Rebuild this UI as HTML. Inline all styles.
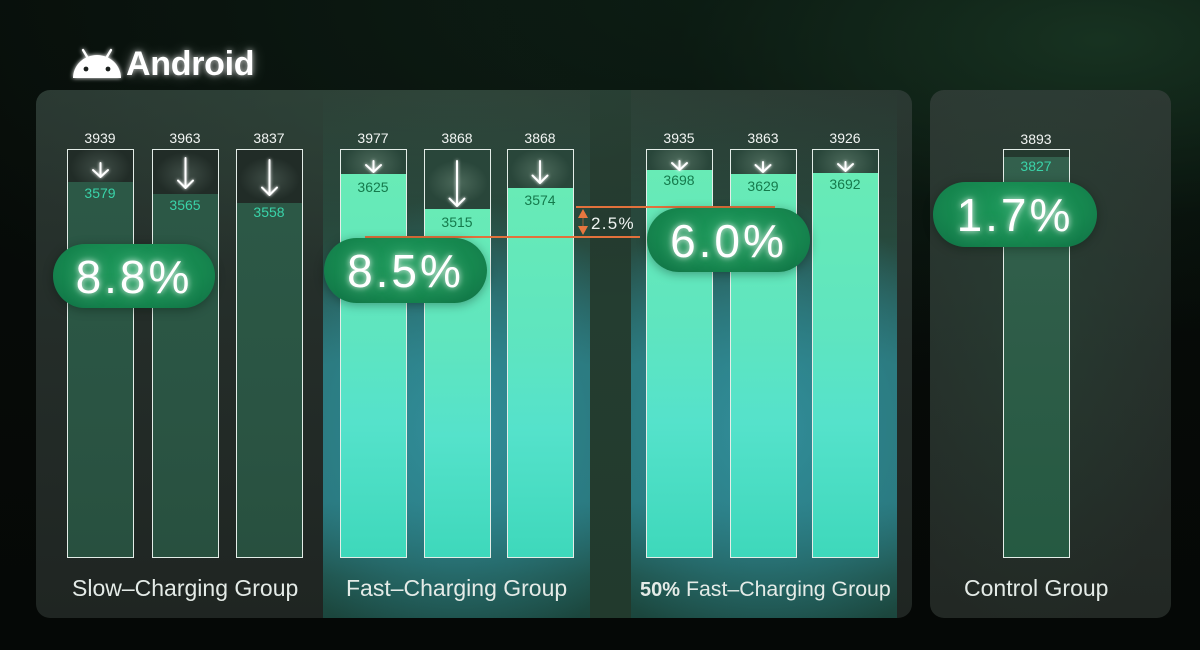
<!DOCTYPE html>
<html><head><meta charset="utf-8">
<style>
*{margin:0;padding:0;box-sizing:border-box}
html,body{width:1200px;height:650px;overflow:hidden;background:#050907}
body{position:relative;font-family:"Liberation Sans",Arial,sans-serif;
background:
radial-gradient(ellipse 700px 300px at 1100px 40px, rgba(24,52,34,0.95), rgba(10,24,16,0.4) 60%, rgba(0,0,0,0) 100%),
radial-gradient(ellipse 900px 400px at 700px 0px, rgba(14,32,22,0.9), rgba(0,0,0,0) 100%),
linear-gradient(180deg,#070c09 0%,#050806 100%);}
.abs{position:absolute}
.panel{position:absolute;border-radius:14px;overflow:hidden}
#main{left:36px;top:90px;width:876px;height:528px;
background:
radial-gradient(ellipse 500px 200px at 420px 0px, rgba(50,80,64,0.55), rgba(0,0,0,0) 100%),
linear-gradient(180deg,#2a3731 0%,#242d29 45%,#1f2522 100%);}
#ctrl{left:930px;top:90px;width:241px;height:528px;
background:
radial-gradient(ellipse 160px 320px at 106px 230px, rgba(40,80,60,0.35), rgba(0,0,0,0) 100%),
linear-gradient(180deg,#2d3933 0%,#262e2a 50%,#222824 100%);}
.region{position:absolute;top:0;height:528px}
.greg{background:
 radial-gradient(ellipse 210px 230px at 50% 64%, rgba(50,145,158,0.9) 0%, rgba(46,136,146,0.55) 55%, rgba(0,0,0,0) 100%),
 linear-gradient(180deg, rgba(38,74,58,0.0) 0%, rgba(40,92,74,0.55) 28%, rgba(44,128,132,0.85) 52%, rgba(42,124,130,0.9) 78%, #1f5048 92%, #1b463d 100%);}
.bar{position:absolute;top:149px;height:409px;width:67px;border:1.5px solid #e4ede8;overflow:hidden}
.band{position:absolute;left:0;right:0;top:0}
.fill{position:absolute;left:0;right:0;bottom:0}
.slow .band{background:radial-gradient(ellipse 30px 22px at 50% 55%, rgba(120,140,130,0.35), rgba(0,0,0,0) 100%),#212c27}
.slow .fill{background:linear-gradient(180deg,#2c5846 0%,#2a5443 60%,#28503f 100%)}
.fast .band{background:radial-gradient(ellipse 30px 22px at 50% 55%, rgba(140,170,150,0.35), rgba(0,0,0,0) 100%),#29463a}
.fast .fill{background:linear-gradient(180deg,#68ebb6 0%,#5fe5bf 40%,#55e2cb 65%,#3ed8bb 100%)}
.ctrlbar .band{background:#24392f}
.ctrlbar .fill{background:linear-gradient(180deg,#33604d 0%,#2d5c47 50%,#255a42 100%)}
.top{position:absolute;width:80px;text-align:center;font-size:14px;color:#f2f5f3;line-height:16px}
.inn{position:absolute;width:80px;text-align:center;font-size:14px;line-height:16px}
.pill{position:absolute;border-radius:40px;background:radial-gradient(ellipse at 50% 40%,#1d9a5c 0%,#16874f 60%,#107045 100%);
color:#fff;text-align:center;font-size:46px;letter-spacing:3px;
text-shadow:0 0 6px rgba(255,255,255,0.8),0 0 14px rgba(220,255,235,0.5);box-shadow:0 2px 10px rgba(0,20,10,0.35)}
.glab{position:absolute;font-size:23px;color:#e4ebe7;white-space:nowrap;line-height:26px}
</style></head><body>

<!-- Android logo -->
<svg class="abs" style="left:68px;top:44px" width="60" height="40" viewBox="0 0 60 40">
<defs><filter id="gl" x="-30%" y="-30%" width="160%" height="160%"><feGaussianBlur stdDeviation="2.2" result="b"/><feMerge><feMergeNode in="b"/><feMergeNode in="SourceGraphic"/></feMerge></filter></defs>
<g filter="url(#gl)" fill="#fff">
<path d="M5 34 A24 23 0 0 1 53 34 Z"/>
<line x1="15" y1="6" x2="21" y2="16" stroke="#fff" stroke-width="2.4" stroke-linecap="round"/>
<line x1="43" y1="6" x2="37" y2="16" stroke="#fff" stroke-width="2.4" stroke-linecap="round"/>
</g>
<circle cx="18" cy="25" r="2.4" fill="#1a1f1c"/>
<circle cx="40" cy="25" r="2.4" fill="#1a1f1c"/>
</svg>
<div class="abs" style="left:126px;top:44px;font-size:34px;font-weight:bold;color:#fff;line-height:40px;letter-spacing:-0.3px;text-shadow:0 0 6px rgba(255,255,255,0.7),0 0 14px rgba(255,255,255,0.35)">Android</div>

<div class="panel" id="main">
  <div class="region greg" style="left:287px;width:267px"></div>
  <div class="region" style="left:554px;width:41px;background:linear-gradient(180deg,rgba(30,60,44,0.3) 0%,#243d30 40%,#223a2d 100%)"></div>
  <div class="region greg" style="left:595px;width:266px"></div>
</div>
<div class="panel" id="ctrl"></div>

<!-- Slow bars -->
<div class="bar slow" style="left:67px"><div class="band" style="height:32px"></div><div class="fill" style="top:32px"></div></div>
<div class="bar slow" style="left:152px"><div class="band" style="height:44px"></div><div class="fill" style="top:44px"></div></div>
<div class="bar slow" style="left:236px"><div class="band" style="height:53px"></div><div class="fill" style="top:53px"></div></div>
<!-- Fast bars -->
<div class="bar fast" style="left:340px"><div class="band" style="height:24px"></div><div class="fill" style="top:24px"></div></div>
<div class="bar fast" style="left:424px"><div class="band" style="height:59px"></div><div class="fill" style="top:59px"></div></div>
<div class="bar fast" style="left:507px"><div class="band" style="height:38px"></div><div class="fill" style="top:38px"></div></div>
<!-- 50% bars -->
<div class="bar fast" style="left:646px"><div class="band" style="height:20px"></div><div class="fill" style="top:20px"></div></div>
<div class="bar fast" style="left:730px"><div class="band" style="height:24px"></div><div class="fill" style="top:24px"></div></div>
<div class="bar fast" style="left:812px"><div class="band" style="height:23px"></div><div class="fill" style="top:23px"></div></div>
<!-- Control bar -->
<div class="bar ctrlbar" style="left:1003px"><div class="band" style="height:7px"></div><div class="fill" style="top:7px"></div></div>

<!-- top labels -->
<div class="top" style="left:60px;top:130px">3939</div>
<div class="top" style="left:145px;top:130px">3963</div>
<div class="top" style="left:229px;top:130px">3837</div>
<div class="top" style="left:333px;top:130px">3977</div>
<div class="top" style="left:417px;top:130px">3868</div>
<div class="top" style="left:500px;top:130px">3868</div>
<div class="top" style="left:639px;top:130px">3935</div>
<div class="top" style="left:723px;top:130px">3863</div>
<div class="top" style="left:805px;top:130px">3926</div>
<div class="top" style="left:996px;top:131px">3893</div>

<!-- inner labels -->
<div class="inn" style="left:60px;top:185px;color:#3ad3a9">3579</div>
<div class="inn" style="left:145px;top:197px;color:#3ad3a9">3565</div>
<div class="inn" style="left:229px;top:204px;color:#3ad3a9">3558</div>
<div class="inn" style="left:333px;top:179px;color:#157a4c">3625</div>
<div class="inn" style="left:417px;top:214px;color:#157a4c">3515</div>
<div class="inn" style="left:500px;top:192px;color:#157a4c">3574</div>
<div class="inn" style="left:639px;top:172px;color:#157a4c">3698</div>
<div class="inn" style="left:723px;top:178px;color:#157a4c">3629</div>
<div class="inn" style="left:805px;top:176px;color:#157a4c">3692</div>
<div class="inn" style="left:996px;top:158px;color:#3ad3a9">3827</div>

<!-- arrows and orange markers -->
<svg class="abs" style="left:0;top:0" width="1200" height="650" viewBox="0 0 1200 650">
<defs><filter id="ag" x="-100%" y="-50%" width="300%" height="200%"><feGaussianBlur stdDeviation="1.6" result="b"/><feMerge><feMergeNode in="b"/><feMergeNode in="SourceGraphic"/></feMerge></filter></defs>
<g stroke="#ffffff" stroke-width="2" fill="none" stroke-linecap="round" stroke-linejoin="round" filter="url(#ag)">
<path d="M100.5 163 V177 M93 170 L100.5 177 L108 170"/>
<path d="M185.5 158 V188 M178 180.5 L185.5 188 L193 180.5"/>
<path d="M269.5 160 V195 M262 187.5 L269.5 195 L277 187.5"/>
<path d="M373.5 161 V172 M366 165 L373.5 172 L381 165"/>
<path d="M457 161 V206 M449.5 198.5 L457 206 L464.5 198.5"/>
<path d="M540 161 V183 M532.5 175.5 L540 183 L547.5 175.5"/>
<path d="M679.5 161 V170 M672 163 L679.5 170 L687 163"/>
<path d="M763 162 V172 M755.5 165 L763 172 L770.5 165"/>
<path d="M845.5 162 V171 M838 164 L845.5 171 L853 164"/>
</g>
<g stroke="#e2713c" stroke-width="2">
<line x1="576" y1="207" x2="775" y2="207"/>
<line x1="365" y1="237" x2="640" y2="237"/>
<line x1="583" y1="215" x2="583" y2="229" stroke-width="1" opacity="0.6"/>
</g>
<polygon points="578,218 588,218 583,209" fill="#e8773f"/>
<polygon points="578,226 588,226 583,235" fill="#e8773f"/>
</svg>
<div class="abs" style="left:591px;top:213px;font-size:17px;letter-spacing:1.3px;color:#f0f4f2;line-height:22px">2.5%</div>

<!-- pills -->
<div class="pill" style="left:53px;top:244px;width:162px;height:64px;line-height:66px">8.8%</div>
<div class="pill" style="left:324px;top:238px;width:163px;height:65px;line-height:66px">8.5%</div>
<div class="pill" style="left:647px;top:208px;width:163px;height:64px;line-height:66px">6.0%</div>
<div class="pill" style="left:933px;top:182px;width:164px;height:65px;line-height:66px">1.7%</div>

<!-- group labels -->
<div class="glab" style="left:72px;top:575px">Slow–Charging Group</div>
<div class="glab" style="left:346px;top:575px">Fast–Charging Group</div>
<div class="glab" style="left:640px;top:576px;font-size:21.3px"><b style="font-size:20px">50%</b> Fast–Charging Group</div>
<div class="glab" style="left:964px;top:575px">Control Group</div>

</body></html>
